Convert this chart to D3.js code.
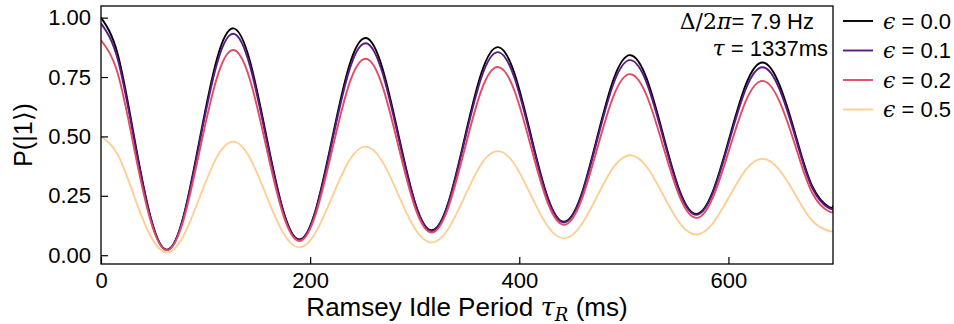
<!DOCTYPE html>
<html>
<head>
<meta charset="utf-8">
<script src="https://cdn.jsdelivr.net/npm/d3@7"></script>
<style>
  body { margin: 0; background: #fff; }
  svg { display: block; font-family: "Liberation Sans", Arial, sans-serif; }
  .axis text { font-size: 22px; fill: #000; }
  .axis line { stroke: #000; stroke-width: 1.2; }
  .math { font-family: "DejaVu Serif", "Liberation Serif", serif; }
</style>
</head>
<body>
<script>
// Ramsey idle period (ms), sampled at every eighth of the oscillation
const tau = [0, 15.8, 31.6, 47.5, 63.3, 79.1, 94.9, 110.8, 126.6, 142.4, 158.2, 174.1,
  189.9, 205.7, 221.5, 237.3, 253.2, 269.0, 284.8, 300.6, 316.5, 332.3, 348.1, 363.9,
  379.7, 395.6, 411.4, 427.2, 443.0, 458.9, 474.7, 490.5, 506.3, 522.2, 538.0, 553.8,
  569.6, 585.4, 601.3, 617.1, 632.9, 648.7, 664.6, 680.4, 696.2, 700];

// P(|1>) for each epsilon
const pEps00 = [1.000, 0.849, 0.500, 0.159, 0.023, 0.167, 0.500, 0.825, 0.955, 0.818, 0.500, 0.190,
  0.066, 0.197, 0.500, 0.796, 0.914, 0.789, 0.500, 0.218, 0.105, 0.224, 0.500, 0.769,
  0.876, 0.763, 0.500, 0.243, 0.141, 0.249, 0.500, 0.745, 0.842, 0.739, 0.500, 0.266,
  0.174, 0.272, 0.500, 0.723, 0.811, 0.718, 0.500, 0.288, 0.203, 0.209];
const pEps01 = [0.976, 0.828, 0.488, 0.155, 0.022, 0.163, 0.488, 0.805, 0.932, 0.798, 0.488, 0.185,
  0.064, 0.192, 0.488, 0.777, 0.892, 0.770, 0.488, 0.213, 0.102, 0.219, 0.488, 0.750,
  0.855, 0.744, 0.488, 0.237, 0.138, 0.243, 0.488, 0.727, 0.821, 0.721, 0.488, 0.259,
  0.170, 0.265, 0.488, 0.705, 0.791, 0.700, 0.488, 0.281, 0.198, 0.204];
const pEps02 = [0.905, 0.768, 0.452, 0.144, 0.021, 0.151, 0.452, 0.746, 0.864, 0.740, 0.452, 0.172,
  0.060, 0.178, 0.452, 0.720, 0.827, 0.714, 0.452, 0.197, 0.095, 0.203, 0.452, 0.696,
  0.792, 0.690, 0.452, 0.220, 0.128, 0.225, 0.452, 0.674, 0.762, 0.668, 0.452, 0.241,
  0.157, 0.246, 0.452, 0.654, 0.734, 0.649, 0.452, 0.260, 0.184, 0.189];
const pEps05 = [0.500, 0.425, 0.250, 0.080, 0.012, 0.084, 0.250, 0.413, 0.478, 0.409, 0.250, 0.095,
  0.033, 0.099, 0.250, 0.398, 0.457, 0.395, 0.250, 0.109, 0.053, 0.112, 0.250, 0.385,
  0.438, 0.382, 0.250, 0.122, 0.071, 0.125, 0.250, 0.373, 0.421, 0.370, 0.250, 0.133,
  0.087, 0.136, 0.250, 0.362, 0.406, 0.359, 0.250, 0.144, 0.102, 0.105];

const epsLabels = ["0.0", "0.1", "0.2", "0.5"];
const xTicks = [0, 200, 400, 600];
const yTicks = [0, 0.25, 0.5, 0.75, 1.0];

const series = [pEps00, pEps01, pEps02, pEps05].map((v, i) => ({
  label: epsLabels[i],
  points: tau.map((t, j) => [t, v[j]])
}));
const colors = ["#000004", "#5b1a82", "#e04b65", "#fdcf95"];

const W = 954, H = 324;
const margin = { top: 6, right: 121, bottom: 60, left: 101 },
      width = W - margin.left - margin.right,
      height = H - margin.top - margin.bottom;

const svg = d3.select("body").append("svg")
    .attr("width", W)
    .attr("height", H);

const g = svg.append("g")
    .attr("transform", "translate(" + margin.left + "," + margin.top + ")");

const x = d3.scaleLinear().domain([0, 700]).range([0, width]);
const y = d3.scaleLinear().domain([-0.037, 1.049]).range([height, 0]);

g.append("clipPath").attr("id", "clip")
  .append("rect").attr("width", width).attr("height", height);

// curves
const line = d3.line()
    .x(d => x(d[0]))
    .y(d => y(d[1]))
    .curve(d3.curveNatural);

g.append("g").attr("clip-path", "url(#clip)")
  .selectAll("path")
  .data(series)
  .enter().append("path")
    .attr("d", d => line(d.points))
    .attr("fill", "none")
    .attr("stroke", (d, i) => colors[i])
    .attr("stroke-width", 1.9);

// axes, ticks pointing inward
const xAxis = g.append("g")
    .attr("class", "axis")
    .attr("transform", "translate(0," + height + ")")
    .call(d3.axisBottom(x).tickValues(xTicks).tickFormat(d3.format("d"))
      .tickSizeInner(-7).tickSizeOuter(0).tickPadding(8));
xAxis.select(".domain").remove();

const yAxis = g.append("g")
    .attr("class", "axis")
    .call(d3.axisLeft(y).tickValues(yTicks).tickFormat(d3.format(".2f"))
      .tickSizeInner(-7).tickSizeOuter(0).tickPadding(10));
yAxis.select(".domain").remove();

// frame
g.append("rect")
    .attr("width", width)
    .attr("height", height)
    .attr("fill", "none")
    .attr("stroke", "#000")
    .attr("stroke-width", 1.3);

// axis labels
const xl = svg.append("text")
    .attr("x", margin.left + width / 2)
    .attr("y", 316)
    .attr("text-anchor", "middle")
    .style("font-size", "26px");
xl.append("tspan").text("Ramsey Idle Period ");
xl.append("tspan").attr("class", "math").style("font-style", "italic").text("τ");
xl.append("tspan").attr("class", "math").style("font-style", "italic")
  .style("font-size", "18px").attr("dy", 5).text("R");
xl.append("tspan").attr("dy", -5).text(" (ms)");

svg.append("text")
    .attr("transform", "translate(32," + (margin.top + height / 2) + ") rotate(-90)")
    .attr("text-anchor", "middle")
    .style("font-size", "25px")
    .text("P(|1⟩)");

// annotation
const a1 = svg.append("text")
    .attr("x", 814).attr("y", 29)
    .attr("text-anchor", "end")
    .style("font-size", "22px");
a1.append("tspan").attr("class", "math").text("Δ/2");
a1.append("tspan").attr("class", "math").style("font-style", "italic").text("π");
a1.append("tspan").text("= 7.9 Hz");

const a2 = svg.append("text")
    .attr("x", 828).attr("y", 56)
    .attr("text-anchor", "end")
    .style("font-size", "22px");
a2.append("tspan").attr("class", "math").style("font-style", "italic").text("τ");
a2.append("tspan").text(" = 1337ms");

// legend
const legend = svg.append("g")
  .selectAll("g")
  .data(series)
  .enter().append("g")
    .attr("transform", (d, i) => "translate(843," + (21 + i * 29.5) + ")");

legend.append("line")
    .attr("x1", 0).attr("x2", 30)
    .attr("stroke", (d, i) => colors[i])
    .attr("stroke-width", 1.9);

const lt = legend.append("text")
    .attr("x", 40)
    .attr("dy", "0.36em")
    .style("font-size", "22px");
lt.append("tspan").attr("class", "math").style("font-style", "italic").text("ϵ");
lt.append("tspan").text(d => " = " + d.label);
</script>
</body>
</html>
